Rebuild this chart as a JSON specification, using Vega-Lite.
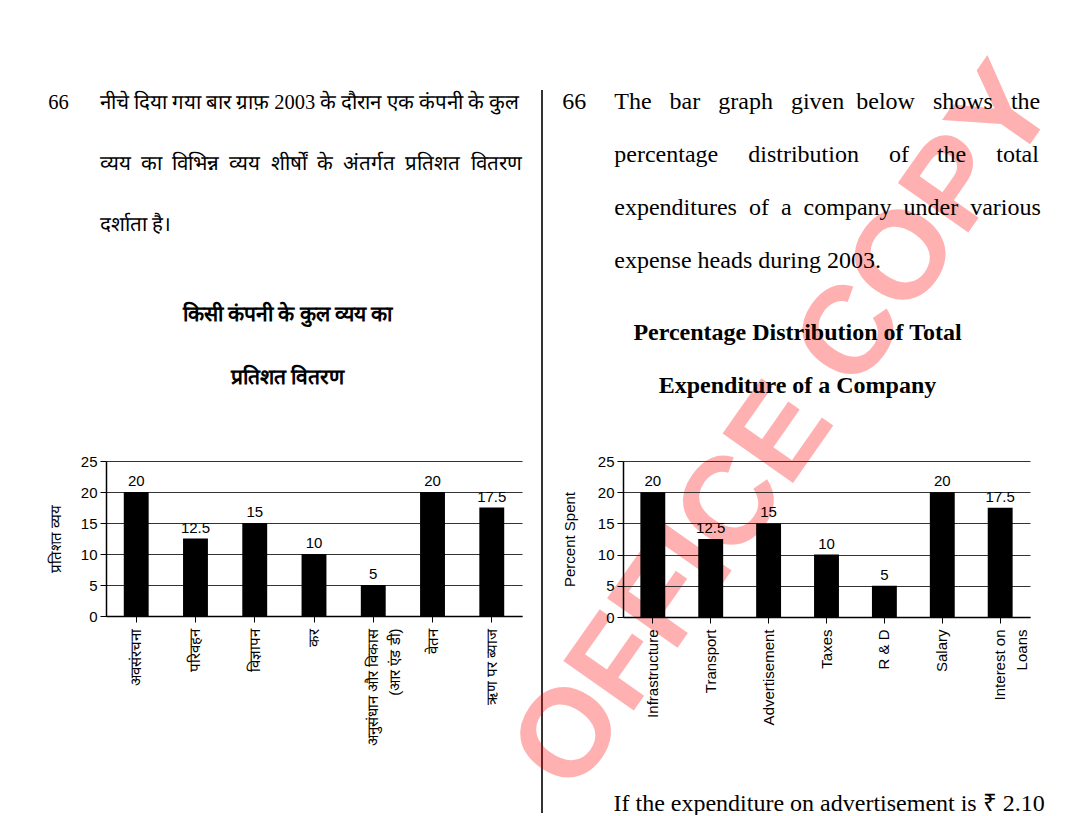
{
  "$schema": "https://vega.github.io/schema/vega-lite/v6.json",
  "background": "white",
  "padding": {"left": 48, "top": 45, "right": 0, "bottom": 0},
  "spacing": 0,
  "bounds": "flush",
  "datasets": {
    "hi": [
      {"head": "अवसंरचना", "pct": 20},
      {"head": "परिवहन", "pct": 12.5},
      {"head": "विज्ञापन", "pct": 15},
      {"head": "कर", "pct": 10},
      {"head": "अनुसंधान और विकास|(आर एंड डी)", "pct": 5},
      {"head": "वेतन", "pct": 20},
      {"head": "ऋण पर ब्याज", "pct": 17.5}
    ],
    "en": [
      {"head": "Infrastructure", "pct": 20},
      {"head": "Transport", "pct": 12.5},
      {"head": "Advertisement", "pct": 15},
      {"head": "Taxes", "pct": 10},
      {"head": "R & D", "pct": 5},
      {"head": "Salary", "pct": 20},
      {"head": "Interest on|Loans", "pct": 17.5}
    ],
    "divider": [{"x": 0.198, "y": 84.46, "y2": -31.4}],
    "stamp": [{"label": "OFFICE COPY", "x": 2.604, "y": 30.29}]
  },
  "config": {
    "view": {"stroke": null},
    "font": "Liberation Sans",
    "title": {"color": "black"},
    "axis": {
      "labelFont": "Liberation Sans",
      "labelFontSize": 15,
      "labelColor": "black",
      "titleFont": "Liberation Sans",
      "titleFontSize": 15,
      "titleFontWeight": "normal",
      "titleColor": "black",
      "domainColor": "black",
      "domainWidth": 1.5,
      "tickColor": "black",
      "tickSize": 6,
      "gridColor": "#333333",
      "gridWidth": 1
    }
  },
  "hconcat": [
    {
      "title": {
        "text": [
          "66\u2003\u2002नीचे दिया गया बार ग्राफ़ 2003 के दौरान एक कंपनी के कुल",
          "\u200B\u2003\u2003\u2002व्यय\u2002का\u2002विभिन्न\u2002व्यय\u2002शीर्षों\u2002के\u2002अंतर्गत\u2002प्रतिशत\u2002वितरण",
          "\u200B\u2003\u2003\u2002दर्शाता है।"
        ],
        "anchor": "start",
        "frame": "bounds",
        "font": "Liberation Serif",
        "fontSize": 20.5,
        "fontWeight": "normal",
        "lineHeight": 61,
        "offset": 68
      },
      "width": 416,
      "height": 155,
      "data": {"name": "hi"},
      "resolve": {"axis": {"x": "independent"}},
      "encoding": {
        "y": {
          "field": "pct",
          "type": "quantitative",
          "scale": {"domain": [0, 25], "nice": false},
          "axis": {"title": "प्रतिशत व्यय", "values": [0, 5, 10, 15, 20, 25], "grid": true, "labelOverlap": false, "labelPadding": 3, "titlePadding": 17}
        }
      },
      "layer": [
        {
          "mark": {"type": "bar", "color": "black"},
          "encoding": {
            "x": {
              "field": "head",
              "type": "nominal",
              "sort": null,
              "scale": {"paddingInner": 0.58, "paddingOuter": 0.3},
              "axis": {"title": null, "labelAngle": -90, "labelPadding": 6, "labelExpr": "split(datum.label, '|')", "labelLineHeight": 22}
            }
          }
        },
        {
          "mark": {"type": "text", "dy": -11, "fontSize": 15, "color": "black"},
          "encoding": {
            "x": {
              "field": "head",
              "type": "nominal",
              "sort": null,
              "axis": {
                "orient": "top",
                "title": ["किसी कंपनी के कुल व्यय का", "प्रतिशत वितरण"],
                "titleFont": "Liberation Serif",
                "titleFontSize": 21,
                "titleFontWeight": "bold",
                "titleLineHeight": 63,
                "titleBaseline": "alphabetic",
                "titleAnchor": "middle",
                "titleX": 181,
                "titleY": -141,
                "labels": false,
                "ticks": false,
                "domain": false,
                "grid": false
              }
            },
            "text": {"field": "pct", "type": "quantitative"}
          }
        }
      ]
    },
    {
      "width": 101,
      "height": 156,
      "encoding": {
        "x": {"field": "x", "type": "quantitative", "axis": null, "scale": {"domain": [0, 1], "nice": false, "zero": false}},
        "y": {"field": "y", "type": "quantitative", "axis": null, "scale": {"domain": [0, 25], "nice": false, "zero": false}}
      },
      "layer": [
        {
          "data": {"name": "divider"},
          "mark": {"type": "rule", "color": "#333333", "strokeWidth": 2},
          "encoding": {"y2": {"field": "y2"}}
        },
        {
          "data": {"name": "stamp"},
          "mark": {"type": "text", "font": "Liberation Sans", "fontWeight": "bold", "fontSize": 125, "angle": -55, "color": "red", "opacity": 0.3, "align": "center", "baseline": "middle"},
          "encoding": {"text": {"field": "label"}}
        }
      ]
    },
    {
      "title": {
        "text": [
          "66\u2003\u2006The \u2002bar \u2002graph \u2002given\u2002below \u2002shows \u2002the",
          "\u200B\u2003\u2003\u2006percentage \u2003distribution \u2003of\u2003\u2006the \u2003total",
          "\u200B\u2003\u2003\u2006expenditures\u2002of\u2002a\u2002company\u2002under\u2002various",
          "\u200B\u2003\u2003\u2006expense heads during 2003."
        ],
        "anchor": "start",
        "frame": "bounds",
        "font": "Liberation Serif",
        "fontSize": 24,
        "fontWeight": "normal",
        "lineHeight": 53,
        "offset": 47
      },
      "width": 407,
      "height": 156,
      "data": {"name": "en"},
      "resolve": {"axis": {"x": "independent"}},
      "encoding": {
        "y": {
          "field": "pct",
          "type": "quantitative",
          "scale": {"domain": [0, 25], "nice": false},
          "axis": {"title": "Percent Spent", "values": [0, 5, 10, 15, 20, 25], "grid": true, "labelOverlap": false, "labelPadding": 3, "titlePadding": 20}
        }
      },
      "layer": [
        {
          "mark": {"type": "bar", "color": "black"},
          "encoding": {
            "x": {
              "field": "head",
              "type": "nominal",
              "sort": null,
              "scale": {"paddingInner": 0.57, "paddingOuter": 0.3},
              "axis": {
                "title": "If the expenditure on advertisement is ₹ 2.10",
                "titleFont": "Liberation Serif",
                "titleFontSize": 24,
                "titleAnchor": "start",
                "titleAlign": "left",
                "titleBaseline": "alphabetic",
                "titleX": -10,
                "titleY": 193,
                "labelAngle": -90,
                "labelPadding": 6,
                "labelExpr": "split(datum.label, '|')",
                "labelLineHeight": 22
              }
            }
          }
        },
        {
          "mark": {"type": "text", "dy": -11, "fontSize": 15, "color": "black"},
          "encoding": {
            "x": {
              "field": "head",
              "type": "nominal",
              "sort": null,
              "axis": {
                "orient": "top",
                "title": ["Percentage Distribution of Total", "Expenditure of a Company"],
                "titleFont": "Liberation Serif",
                "titleFontSize": 24,
                "titleFontWeight": "bold",
                "titleLineHeight": 53,
                "titleBaseline": "alphabetic",
                "titleAnchor": "middle",
                "titleX": 174,
                "titleY": -122,
                "labels": false,
                "ticks": false,
                "domain": false,
                "grid": false
              }
            },
            "text": {"field": "pct", "type": "quantitative"}
          }
        }
      ]
    }
  ]
}
